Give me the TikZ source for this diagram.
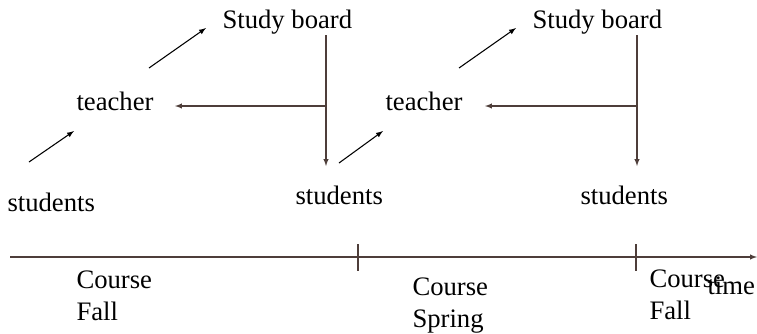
\documentclass[tikz,border=0pt]{standalone}
\usepackage{fontspec}
\setmainfont{Liberation Serif}
\usepackage{tikz}
\usetikzlibrary{arrows,positioning}
\definecolor{axisbrown}{RGB}{78,62,58}

\begin{document}
\begin{tikzpicture}[x=0.75pt,y=-0.75pt,font=\fontsize{20}{24}\selectfont,line width=0.8pt]

\useasboundingbox (0,0) rectangle (757,333);

% First course
\node[anchor=base west,inner sep=0] (block1) at (7,211) {students};
\node[anchor=base west,inner sep=0] (block2) at (76,110) {teacher};
\node[anchor=base west,inner sep=0] (block3) at (222,28) {Study board};
\node[anchor=base west,inner sep=0] (block4) at (295,204) {students};

% Second course
\node[anchor=base west,inner sep=0] (block5) at (385,110) {teacher};
\node[anchor=base west,inner sep=0] (block6) at (532,28) {Study board};
\node[anchor=base west,inner sep=0] (block7) at (580,204) {students};

% Time line labels
\node[anchor=north west,
    inner sep=0,
    align=left] (block8) at (76,270) {Course\\Fall};
\node[anchor=north west,
    inner sep=0,
    align=left] (block9) at (412,277) {Course\\Spring};
\node[anchor=north west,
    inner sep=0,
    align=left] (block10) at (649,269) {Course\\Fall};
\node[anchor=base west,inner sep=0] (block11) at (707,294) {time};

% Free ends of the arrows
\coordinate (c1) at (29,162);
\coordinate (c2) at (74,131);
\coordinate (c3) at (149,68);
\coordinate (c4) at (206,28);
\coordinate (c5) at (326,35);
\coordinate (c6) at (326,106);
\coordinate (c7) at (326,166);
\coordinate (c8) at (175,106);
\coordinate (c9) at (339,163);
\coordinate (c10) at (383,131);
\coordinate (c11) at (459,68);
\coordinate (c12) at (516,28);
\coordinate (c13) at (637,35);
\coordinate (c14) at (637,106);
\coordinate (c15) at (637,166);
\coordinate (c16) at (485,106);

% Time axis
\coordinate (t0) at (10,257);
\coordinate (t1) at (757,257);
\coordinate (t2) at (358,244);
\coordinate (t3) at (358,271);
\coordinate (t4) at (636,244);
\coordinate (t5) at (636,271);

% Arrows
\draw[-latex] (c1) -- (c2);
\draw[-latex] (c3) -- (c4);
\draw[-latex] (c9) -- (c10);
\draw[-latex] (c11) -- (c12);

\draw[-latex,axisbrown] (c5) -- (c7);
\draw[-latex,axisbrown] (c6) -- (c8);
\draw[-latex,axisbrown] (c13) -- (c15);
\draw[-latex,axisbrown] (c14) -- (c16);

\draw[-latex,axisbrown] (t0) -- (t1);
\draw[axisbrown] (t2) -- (t3);
\draw[axisbrown] (t4) -- (t5);

\end{tikzpicture}
\end{document}
